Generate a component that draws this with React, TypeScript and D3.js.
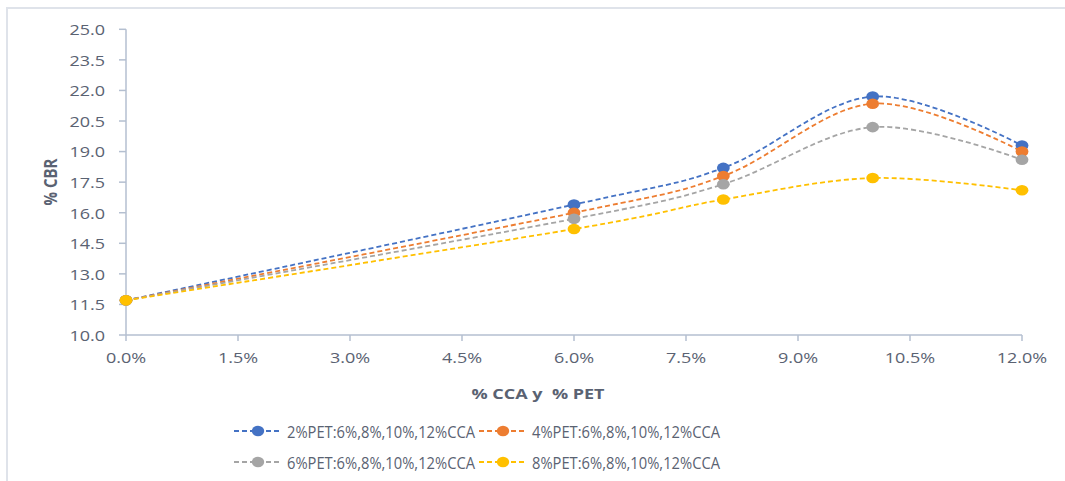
import React from "react";
import * as d3 from "d3";

const xValues = [0, 6, 8, 10, 12];
const seriesNames = [
  "2%PET:6%,8%,10%,12%CCA",
  "4%PET:6%,8%,10%,12%CCA",
  "6%PET:6%,8%,10%,12%CCA",
  "8%PET:6%,8%,10%,12%CCA",
];
const pet2 = [11.7, 16.4, 18.2, 21.7, 19.3];
const pet4 = [11.7, 16.0, 17.8, 21.35, 19.0];
const pet6 = [11.7, 15.7, 17.4, 20.2, 18.6];
const pet8 = [11.7, 15.2, 16.65, 17.7, 17.1];
const seriesValues = [pet2, pet4, pet6, pet8];
const colors = ["#4472C4", "#ED7D31", "#A5A5A5", "#FFC000"];
const yTicks = [10, 11.5, 13, 14.5, 16, 17.5, 19, 20.5, 22, 23.5, 25];
const xTicks = [0, 1.5, 3, 4.5, 6, 7.5, 9, 10.5, 12];

const FONT = "'Open Sans', 'Liberation Sans', sans-serif";
const TEXT = "#5a6272";
const AXIS = "#b4bfd0";
const SX = 1.2;

export default function App() {
  const left = 126, right = 1022, top = 29.3, bottom = 335;
  const x = d3.scaleLinear().domain([0, 12]).range([left, right]);
  const y = d3.scaleLinear().domain([10, 25]).range([bottom, top]);
  const line = d3
    .line<number>()
    .x((_, i) => x(xValues[i]))
    .y((d) => y(d))
    .curve(d3.curveCardinal.tension(0));

  const legendItems = [
    { lx: 234, ly: 431 },
    { lx: 479, ly: 431 },
    { lx: 234, ly: 462 },
    { lx: 479, ly: 462 },
  ];

  return (
    <svg
      width={1065}
      height={481}
      style={{ position: "absolute", left: 0, top: 0, background: "#fff" }}
    >
      <rect x={7} y={8} width={1070} height={480} fill="#fff" stroke="#dfe3ea" strokeWidth={2} />
      {/* y axis */}
      <line x1={left} x2={left} y1={top} y2={bottom} stroke={AXIS} strokeWidth={1.5} />
      {yTicks.map((t) => (
        <g key={"y" + t}>
          <line x1={left - 7} x2={left} y1={y(t)} y2={y(t)} stroke={AXIS} strokeWidth={1.5} />
          <g transform={`translate(${left - 21},${y(t)}) scale(${SX},1)`}>
            <text
              textAnchor="end"
              dominantBaseline="central"
              fontFamily={FONT}
              fontSize={15}
              fill={TEXT}
            >
              {t.toFixed(1)}
            </text>
          </g>
        </g>
      ))}
      {/* x axis */}
      <line x1={left} x2={right} y1={bottom} y2={bottom} stroke={AXIS} strokeWidth={1.5} />
      {xTicks.map((t) => (
        <g key={"x" + t}>
          <line x1={x(t)} x2={x(t)} y1={bottom} y2={bottom + 6} stroke={AXIS} strokeWidth={1.5} />
          <g transform={`translate(${x(t)},357) scale(${SX},1)`}>
            <text
              textAnchor="middle"
              dominantBaseline="central"
              fontFamily={FONT}
              fontSize={15}
              fill={TEXT}
            >
              {t.toFixed(1) + "%"}
            </text>
          </g>
        </g>
      ))}
      <g transform={`translate(538,393) scale(${SX},1)`}>
        <text
          textAnchor="middle"
          dominantBaseline="central"
          fontFamily={FONT}
          fontSize={15}
          fontWeight="bold"
          fill={TEXT}
          style={{ whiteSpace: "pre" }}
        >
          {"% CCA y  % PET"}
        </text>
      </g>
      <g transform={`translate(50,182) rotate(-90) scale(1,${SX})`}>
        <text
          textAnchor="middle"
          dominantBaseline="central"
          fontFamily={FONT}
          fontSize={15}
          fontWeight="bold"
          fill={TEXT}
        >
          % CBR
        </text>
      </g>
      {/* series */}
      {seriesValues.map((vals, si) => (
        <g key={"s" + si}>
          <path
            d={line(vals) || ""}
            fill="none"
            stroke={colors[si]}
            strokeWidth={1.8}
            strokeDasharray="5,3"
          />
          {vals.map((v, i) => (
            <ellipse key={i} cx={x(xValues[i])} cy={y(v)} rx={6.4} ry={5.3} fill={colors[si]} />
          ))}
        </g>
      ))}
      {/* legend */}
      {legendItems.map((it, i) => (
        <g key={"l" + i}>
          <line
            x1={it.lx}
            x2={it.lx + 48}
            y1={it.ly}
            y2={it.ly}
            stroke={colors[i]}
            strokeWidth={1.8}
            strokeDasharray="5,3"
          />
          <ellipse cx={it.lx + 24} cy={it.ly} rx={6.2} ry={5.3} fill={colors[i]} />
          <text
            x={it.lx + 53}
            y={it.ly}
            dominantBaseline="central"
            fontFamily={FONT}
            fontSize={16.5}
            fill={TEXT}
            textLength={188}
            lengthAdjust="spacingAndGlyphs"
          >
            {seriesNames[i]}
          </text>
        </g>
      ))}
    </svg>
  );
}
